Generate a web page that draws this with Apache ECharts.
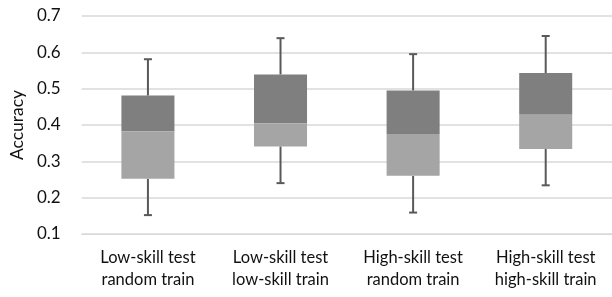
<!DOCTYPE html>
<html>
<head>
<meta charset="utf-8">
<script src="https://cdn.jsdelivr.net/npm/echarts@6/dist/echarts.min.js"></script>
<style>
  html, body { margin: 0; padding: 0; background: #fff; }
  #main { width: 612px; height: 297px; }
</style>
</head>
<body>
<div id="main"></div>
<script>
// 类别与箱线图数值
var categories = ['Low-skill test\nrandom train', 'Low-skill test\nlow-skill train', 'High-skill test\nrandom train', 'High-skill test\nhigh-skill train'];
var mins = [0.152, 0.240, 0.159, 0.234];
var q1s = [0.252, 0.341, 0.260, 0.334];
var medians = [0.383, 0.405, 0.375, 0.428];
var q3s = [0.481, 0.539, 0.495, 0.543];
var maxs = [0.581, 0.639, 0.595, 0.645];
var yTicks = [0.1, 0.2, 0.3, 0.4, 0.5, 0.6, 0.7];

var boxData = categories.map(function (c, i) {
  return [i, mins[i], q1s[i], medians[i], q3s[i], maxs[i]];
});

var myChart = echarts.init(document.getElementById('main'));

// 画箱体（上下两色）和须线
function renderBox (params, api) {
  var x = api.value(0);
  var pMin = api.coord([x, api.value(1)]);
  var pQ1 = api.coord([x, api.value(2)]);
  var pMed = api.coord([x, api.value(3)]);
  var pQ3 = api.coord([x, api.value(4)]);
  var pMax = api.coord([x, api.value(5)]);
  var bw = api.size([1, 0])[0] * 0.4;
  var cx = pMed[0];
  var cap = 4;
  var lineStyle = { stroke: '#595959', lineWidth: 2 };
  return {
    type: 'group',
    children: [
      { type: 'line', shape: { x1: cx, y1: pQ3[1], x2: cx, y2: pMax[1] }, style: lineStyle },
      { type: 'line', shape: { x1: cx - cap, y1: pMax[1], x2: cx + cap, y2: pMax[1] }, style: lineStyle },
      { type: 'line', shape: { x1: cx, y1: pQ1[1], x2: cx, y2: pMin[1] }, style: lineStyle },
      { type: 'line', shape: { x1: cx - cap, y1: pMin[1], x2: cx + cap, y2: pMin[1] }, style: lineStyle },
      { type: 'rect', shape: { x: cx - bw / 2, y: pQ3[1], width: bw, height: pMed[1] - pQ3[1] }, style: { fill: '#7f7f7f' } },
      { type: 'rect', shape: { x: cx - bw / 2, y: pMed[1], width: bw, height: pQ1[1] - pMed[1] }, style: { fill: '#a5a5a5' } }
    ]
  };
}

var option = {
  animation: false,
  textStyle: { fontFamily: 'Lato, "Open Sans", sans-serif' },
  grid: { left: 75, right: -5, top: 16, bottom: 63 },
  xAxis: {
    type: 'category',
    data: categories,
    axisLine: { show: true, lineStyle: { color: '#d9d9d9', width: 1 } },
    axisTick: { show: false },
    axisLabel: { color: '#111', fontSize: 16.5, lineHeight: 22, margin: 13 }
  },
  yAxis: {
    type: 'value',
    min: yTicks[0],
    max: yTicks[yTicks.length - 1],
    interval: 0.1,
    name: 'Accuracy',
    nameLocation: 'middle',
    nameRotate: 90,
    nameGap: 55,
    nameTextStyle: { color: '#111', fontSize: 17.5 },
    axisLine: { show: false },
    axisTick: { show: false },
    splitLine: { lineStyle: { color: '#d9d9d9', width: 1.5 } },
    axisLabel: {
      color: '#111',
      fontSize: 17,
      margin: 21,
      formatter: function (v) { return v.toFixed(1); }
    }
  },
  series: [{
    type: 'custom',
    renderItem: renderBox,
    encode: { x: 0, y: [1, 2, 3, 4, 5] },
    data: boxData
  }]
};

myChart.setOption(option);
</script>
</body>
</html>
